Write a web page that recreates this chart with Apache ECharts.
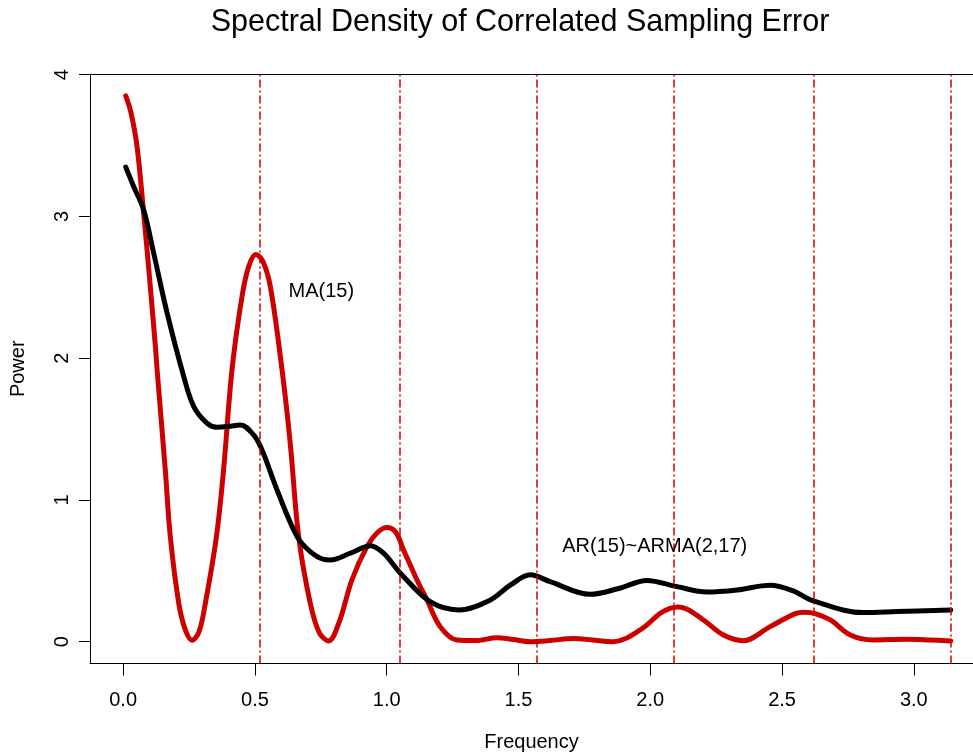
<!DOCTYPE html>
<html><head><meta charset="utf-8">
<script src="https://cdn.jsdelivr.net/npm/echarts@6/dist/echarts.min.js"></script>
<style>html,body{margin:0;padding:0;background:#fff}#c{width:973px;height:753px}</style>
</head><body><div id="c"></div>
<script>
var titleText = 'Spectral Density of Correlated Sampling Error';
var xTicks = [0, 0.5, 1.0, 1.5, 2.0, 2.5, 3.0];
var yTicks = [0, 1, 2, 3, 4];
var harmonics = [0.5236, 1.0472, 1.5708, 2.0944, 2.6180, 3.1416];
var maFreq = [0.01,0.030,0.053,0.078,0.101,0.1225,0.129,0.160,0.179,0.211,0.236,0.262,0.288,0.312,0.354,0.381,0.413,0.451,0.477,0.504,0.531,0.559,0.603,0.634,0.666,0.710,0.745,0.780,0.820,0.868,0.925,0.965,1.001,1.035,1.064,1.115,1.153,1.203,1.267,1.340,1.418,1.480,1.544,1.620,1.709,1.780,1.860,1.962,2.038,2.075,2.107,2.140,2.202,2.278,2.353,2.455,2.550,2.587,2.625,2.683,2.759,2.846,2.973,3.060,3.14];
var maPower = [3.85,3.73,3.49,3.02,2.55,2.08,1.917,1.211,0.741,0.271,0.083,0.01,0.07,0.271,0.741,1.211,1.917,2.434,2.65,2.73,2.68,2.50,1.917,1.40,0.741,0.271,0.06,0.005,0.14,0.435,0.67,0.77,0.805,0.77,0.647,0.435,0.294,0.106,0.012,0.008,0.028,0.015,0.0,0.008,0.022,0.012,0.0,0.083,0.2,0.235,0.245,0.228,0.153,0.047,0.007,0.106,0.198,0.208,0.198,0.153,0.047,0.012,0.017,0.012,0.005];
var armaFreq = [0.01,0.04,0.078,0.116,0.167,0.23,0.268,0.319,0.356,0.40,0.445,0.495,0.527,0.584,0.66,0.71,0.761,0.786,0.862,0.938,0.988,1.052,1.165,1.273,1.393,1.470,1.545,1.62,1.772,1.880,1.987,2.101,2.215,2.330,2.455,2.540,2.619,2.809,2.935,3.14];
var armaPower = [3.347,3.21,3.045,2.74,2.317,1.87,1.658,1.54,1.512,1.518,1.529,1.458,1.352,1.07,0.741,0.635,0.580,0.576,0.624,0.677,0.624,0.483,0.282,0.224,0.294,0.40,0.472,0.423,0.334,0.375,0.432,0.388,0.350,0.365,0.398,0.36,0.287,0.205,0.212,0.224];
var labelMA = {text: 'MA(15)', x: 0.752, y: 2.467};
var labelAR = {text: 'AR(15)~ARMA(2,17)', x: 2.017, y: 0.668};

var X_MIN = -0.1257, X_MAX = 3.2245, Y_MIN = -0.154, Y_MAX = 4.004;
var G = {left: 90, right: 0, top: 74, bottom: 89.5, W: 973, H: 753};
// overlay grid spanning the whole canvas, same scale but shifted so that the
// plot's lower-left corner is its (0,0); its axes sit "on zero" there and carry the ticks
var kx = (X_MAX - X_MIN) / (G.W - G.left - G.right);
var ky = (Y_MAX - Y_MIN) / (G.H - G.top - G.bottom);
var U_MIN = -G.left * kx, U_MAX = (X_MAX - X_MIN) + G.right * kx;
var W_MIN = -G.bottom * ky, W_MAX = (Y_MAX - Y_MIN) + G.top * ky;
var xTickShift = xTicks.map(function (v) { return v - X_MIN; });
var yTickShift = yTicks.map(function (v) { return v - Y_MIN; });

function pairs(a, b) { return a.map(function (v, i) { return [v, b[i]]; }); }
var FONT = '"Liberation Sans", Arial, sans-serif';

var chart = echarts.init(document.getElementById('c'), null, {renderer: 'canvas'});
chart.setOption({
  animation: false,
  backgroundColor: '#fff',
  grid: [
    {left: G.left, right: G.right, top: G.top, bottom: G.bottom, show: false, outerBoundsMode: 'none', containLabel: false},
    {left: 0, right: 0, top: 0, bottom: 0, show: false, outerBoundsMode: 'none', containLabel: false}
  ],
  graphic: [{type: 'text', x: 520, y: 23, style: {text: titleText, font: '30.5px ' + FONT, fill: '#000', textAlign: 'center', textVerticalAlign: 'middle'}}],
  xAxis: [{
    type: 'value', gridIndex: 0, min: X_MIN, max: X_MAX,
    splitLine: {show: false},
    axisLine: {show: true, onZero: false, lineStyle: {color: '#000', width: 1}},
    axisTick: {show: false},
    axisLabel: {show: true, customValues: xTicks, margin: 27, color: '#000', fontSize: 20, fontFamily: FONT, formatter: function (v) { return v.toFixed(1); }},
    name: 'Frequency', nameLocation: 'middle', nameGap: 69,
    nameTextStyle: {color: '#000', fontSize: 20, fontFamily: FONT}
  }, {
    type: 'value', gridIndex: 0, position: 'top', min: X_MIN, max: X_MAX,
    splitLine: {show: false},
    axisLine: {show: true, onZero: false, lineStyle: {color: '#000', width: 1}},
    axisTick: {show: false}, axisLabel: {show: false}
  }, {
    type: 'value', gridIndex: 1, min: U_MIN, max: U_MAX,
    splitLine: {show: false},
    axisLine: {show: false, onZero: true},
    axisTick: {show: true, length: 12, inside: false, customValues: xTickShift, lineStyle: {color: '#000', width: 1}},
    axisLabel: {show: false}
  }],
  yAxis: [{
    type: 'value', gridIndex: 0, min: Y_MIN, max: Y_MAX,
    splitLine: {show: false},
    axisLine: {show: true, onZero: false, lineStyle: {color: '#000', width: 1}},
    axisTick: {show: false},
    axisLabel: {show: true, customValues: yTicks, rotate: 90, margin: 18, color: '#000', fontSize: 20, fontFamily: FONT},
    name: 'Power', nameLocation: 'middle', nameGap: 62,
    nameTextStyle: {color: '#000', fontSize: 20, fontFamily: FONT}
  }, {
    type: 'value', gridIndex: 1, min: W_MIN, max: W_MAX,
    splitLine: {show: false},
    axisLine: {show: false, onZero: true},
    axisTick: {show: true, length: 11, inside: false, customValues: yTickShift, lineStyle: {color: '#000', width: 1}},
    axisLabel: {show: false}
  }],
  series: [
    {type: 'line', name: 'MA(15)', data: pairs(maFreq, maPower), smooth: 0.35, showSymbol: false, z: 2,
     lineStyle: {color: '#cd0000', width: 5, cap: 'round', join: 'round'}},
    {type: 'line', name: 'ARMA', data: pairs(armaFreq, armaPower), smooth: 0.35, showSymbol: false, z: 3,
     lineStyle: {color: '#000', width: 5, cap: 'round', join: 'round'}},
    {type: 'line', name: 'harmonics', data: [], z: 4,
     markLine: {silent: true, symbol: ['none', 'none'], label: {show: false}, animation: false,
       lineStyle: {color: '#cd0000', width: 1.5, type: [8, 3, 2, 3]},
       data: harmonics.map(function (h) { return {xAxis: h}; })}},
    {type: 'scatter', name: 'labels', symbolSize: 0, z: 5,
     data: [labelMA, labelAR].map(function (l) { return {value: [l.x, l.y], name: l.text}; }),
     label: {show: true, position: 'inside', formatter: '{b}', color: '#000', opacity: 1, fontSize: 20, fontFamily: FONT}},
    {type: 'line', name: 'tickHolder', xAxisIndex: 2, yAxisIndex: 1, data: [], silent: true}
  ]
});
</script></body></html>
